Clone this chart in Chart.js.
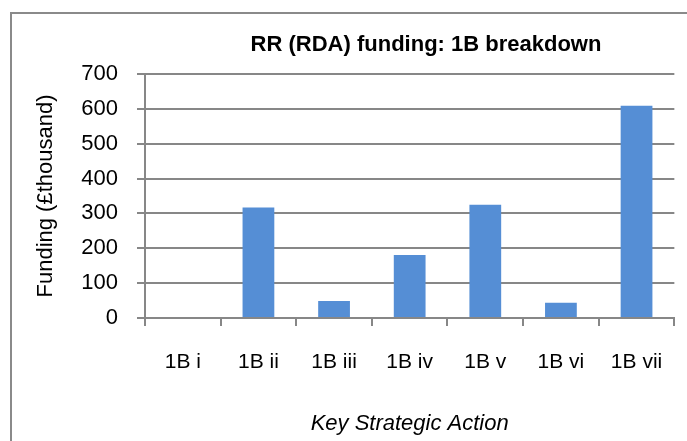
<!DOCTYPE html>
<html lang="en">
<head>
  <meta charset="UTF-8" />
  <title>RR (RDA) funding: 1B breakdown</title>
  <script src="https://cdn.jsdelivr.net/npm/chart.js"></script>
  <style>
    html, body {
      margin: 0;
      padding: 0;
      background: #fff;
      overflow: hidden;
    }

    .marco {
      position: absolute;
      left: 10px;
      top: 12px;
      width: 720px;
      height: 470px;
      border: 2px solid #8a8a8a;
      box-sizing: border-box;
    }

    .contenedor {
      position: absolute;
      left: 0;
      top: 0;
      width: 687px;
      height: 441px;
    }
  </style>
</head>
<body>
  <div class="marco"></div>
  <div class="contenedor">
    <canvas id="grafico"></canvas>
  </div>

  <script>
    const titulo = 'RR (RDA) funding: 1B breakdown';
    const categorias = ['1B i', '1B ii', '1B iii', '1B iv', '1B v', '1B vi', '1B vii'];
    const financiacion = [0, 317, 49, 181, 325, 44, 609];
    const ticksY = [0, 100, 200, 300, 400, 500, 600, 700];

    const gris = '#878787';
    const fuente = "'Liberation Sans', Arial, sans-serif";

    // el titulo de Excel no esta centrado en el lienzo, lo pinto a mano
    const pluginTitulo = {
      id: 'tituloExcel',
      afterDraw(chart) {
        const ctx = chart.ctx;
        ctx.save();
        ctx.font = 'bold 22px ' + fuente;
        ctx.fillStyle = '#000';
        ctx.textAlign = 'center';
        ctx.textBaseline = 'middle';
        ctx.fillText(titulo, 426, 45);
        ctx.restore();
      }
    };

    new Chart(document.getElementById('grafico'), {
      type: 'bar',
      data: {
        labels: categorias,
        datasets: [{
          label: 'Funding',
          data: financiacion,
          backgroundColor: '#558ed5',
          borderWidth: 0,
          barPercentage: 0.42,
          categoryPercentage: 1
        }]
      },
      options: {
        responsive: true,
        maintainAspectRatio: false,
        animation: false,
        layout: { padding: { left: 0, right: 11, top: 74, bottom: 0 } },
        plugins: {
          legend: { display: false },
          tooltip: { enabled: false },
          title: { display: false }
        },
        scales: {
          x: {
            grid: {
              offset: true,
              drawOnChartArea: false,
              color: gris,
              lineWidth: 2,
              tickLength: 8
            },
            border: { color: gris, width: 2 },
            ticks: {
              color: '#000',
              font: { family: fuente, size: 21 },
              padding: 24,
              maxRotation: 0
            },
            title: {
              display: true,
              text: 'Key Strategic Action',
              color: '#000',
              font: { family: fuente, size: 22, style: 'italic' },
              padding: { top: 0, bottom: 4 }
            },
            afterFit: s => { s.height = 441 - 318; }
          },
          y: {
            min: 0,
            max: 700,
            afterBuildTicks: s => { s.ticks = ticksY.map(v => ({ value: v })); },
            grid: {
              color: gris,
              lineWidth: 2,
              tickLength: 8
            },
            border: { color: gris, width: 2 },
            ticks: {
              color: '#000',
              font: { family: fuente, size: 22 },
              padding: 19
            },
            title: {
              display: true,
              text: 'Funding (£thousand)',
              color: '#000',
              font: { family: fuente, size: 22 },
              padding: { top: 33, bottom: 0 }
            },
            afterFit: s => { s.width = 145; }
          }
        }
      },
      plugins: [pluginTitulo]
    });
  </script>
</body>
</html>
